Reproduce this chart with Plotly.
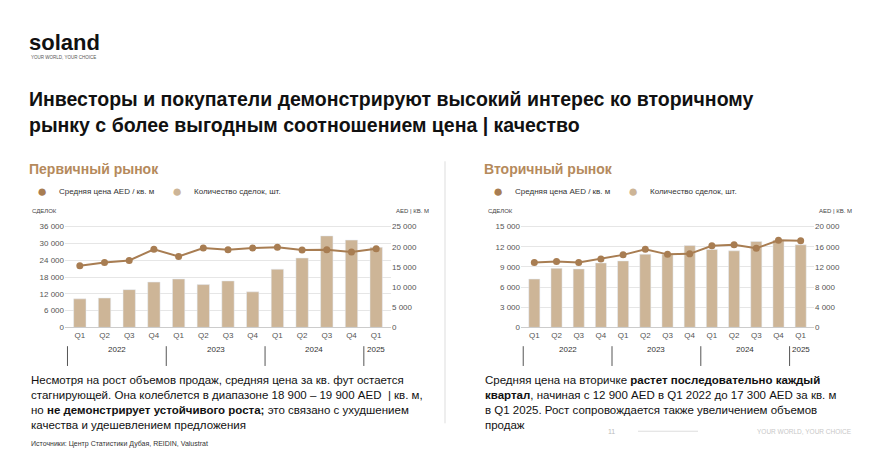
import plotly.graph_objects as go

quarters = ["Q1","Q2","Q3","Q4","Q1","Q2","Q3","Q4","Q1","Q2","Q3","Q4","Q1"]
years = ["2022","2023","2024","2025"]
year_centers = [1.5, 5.5, 9.5, 12]
year_seps = [-0.5, 3.5, 7.5, 11.5]
prim_deals = [10200,10500,13500,16200,17300,15300,16600,12700,20800,24800,32700,31200,28600]
prim_price = [15300,16100,16600,19400,17600,19700,19300,19700,19900,19200,19300,18700,19500]
sec_deals = [7200,8800,8700,9600,9900,10900,10900,12200,11600,11400,12800,13000,12300]
sec_price = [12900,13100,12900,13600,14400,15500,14500,14600,16200,16400,15700,17300,17200]

BAR = "#cdb597"; LINE = "#a87d52"; GOLD = "#b58a5c"
FONT = "Liberation Sans"
W, H = 870, 450
idx = list(range(len(quarters)))
DX = -9

fig = go.Figure()
panels = [
    (prim_deals, prim_price, 57, 383, "x", [0,36000], 6000, [0,25000], 5000),
    (sec_deals, sec_price, 513, 806, "x2", [0,15000], 3000, [0,20000], 4000),
]
for k,(deals, price, x0, x1, xa, r1, d1, r2, d2) in enumerate(panels):
    n1 = "" if k == 0 else "3"; n2 = "2" if k == 0 else "4"
    sfx = "" if k == 0 else "2"
    fig.add_trace(go.Bar(x=idx, y=deals, marker_color=BAR, width=0.5, xaxis=xa, yaxis="y"+n1, showlegend=False))
    fig.add_trace(go.Scatter(x=idx, y=price, mode="lines+markers", line=dict(color=LINE, width=2),
                             marker=dict(size=7, color=LINE), xaxis=xa, yaxis="y"+n2, showlegend=False))
    dom = [x0/W, x1/W]; ydom = [(H-323)/H, (H-215)/H]
    fig.layout["xaxis"+sfx] = dict(domain=dom, tickvals=idx, ticktext=quarters, range=[-0.6,12.6],
        tickfont=dict(size=8, color="#555"), showgrid=False, showline=True, linecolor="#ccc", anchor="y"+n1)
    fig.layout["yaxis"+n1] = dict(domain=ydom, range=[0, r1[1]*1.06], tickvals=list(range(0, r1[1]+1, d1)), tickformat=",", gridcolor="#e6e6e6",
        tickfont=dict(size=8, color="#555"), anchor="x"+sfx, zeroline=False)
    fig.layout["yaxis"+n2] = dict(domain=ydom, range=[0, r2[1]*1.06], tickvals=list(range(0, r2[1]+1, d2)), tickformat=",", overlaying="y"+n1, side="right",
        showgrid=False, tickfont=dict(size=8, color="#555"), anchor="x"+sfx, zeroline=False)
    xr = "x"+sfx
    for yl, c in zip(years, year_centers):
        fig.add_annotation(x=c, y=(H-352)/H, xref=xr, yref="paper", text=yl, showarrow=False,
                           font=dict(size=8, color="#333"))
    for s in year_seps:
        fig.add_shape(type="line", x0=s, x1=s, xref=xr, yref="paper", y0=(H-342)/H, y1=(H-362)/H,
                      line=dict(color="#555", width=1))
    lx = x0 - 30
    fig.add_annotation(x=(lx)/W, y=(H-186)/H, xref="paper", yref="paper", text="●", showarrow=False,
                       font=dict(size=17, color=LINE), xanchor="left")
    fig.add_annotation(x=(lx+22)/W, y=(H-186)/H, xref="paper", yref="paper", text="Средняя цена AED / кв. м",
                       showarrow=False, font=dict(size=8, color="#333"), xanchor="left")
    fig.add_annotation(x=(lx+135)/W, y=(H-186)/H, xref="paper", yref="paper", text="●", showarrow=False,
                       font=dict(size=17, color=BAR), xanchor="left")
    fig.add_annotation(x=(lx+157)/W, y=(H-186)/H, xref="paper", yref="paper", text="Количество сделок, шт.",
                       showarrow=False, font=dict(size=8, color="#333"), xanchor="left")
    fig.add_annotation(x=(x0-35)/W, y=(H-205)/H, xref="paper", yref="paper", text="СДЕЛОК",
                       showarrow=False, font=dict(size=6, color="#444"), xanchor="left")
    fig.add_annotation(x=(x1+40)/W, y=(H-205)/H, xref="paper", yref="paper", text="AED | КВ. М",
                       showarrow=False, font=dict(size=6, color="#444"), xanchor="right")

def txt(x, y, t, size, color="#111", anchor="left", bold=False):
    fig.add_annotation(x=(x+DX)/W, y=(H-y)/H, xref="paper", yref="paper", text=("<b>%s</b>" % t) if bold else t,
                       showarrow=False, xanchor=anchor, yanchor="middle", align="left",
                       font=dict(size=size, color=color, family=FONT))

txt(28, 35, "soland", 22, "#111", bold=True)
txt(30, 50, "YOUR WORLD, YOUR CHOICE", 4.5, "#555")
txt(28, 92, "Инвесторы и покупатели демонстрируют высокий интерес ко вторичному", 19.5, "#111", bold=True)
txt(28, 118, "рынку с более выгодным соотношением цена | качество", 19.5, "#111", bold=True)
txt(28, 163, "Первичный рынок", 14, GOLD, bold=True)
txt(483, 163, "Вторичный рынок", 14, GOLD, bold=True)
fig.add_annotation(x=(30+DX)/W, y=(H-368)/H, xref="paper", yref="paper", xanchor="left", yanchor="top", align="left",
    showarrow=False, font=dict(size=11.5, color="#111", family=FONT),
    text="Несмотря на рост объемов продаж, средняя цена за кв. фут остается<br>стагнирующей. Она колеблется в диапазоне 18 900 – 19 900 AED  | кв. м,<br>но <b>не демонстрирует устойчивого роста;</b> это связано с ухудшением<br>качества и удешевлением предложения")
fig.add_annotation(x=(484+DX)/W, y=(H-368)/H, xref="paper", yref="paper", xanchor="left", yanchor="top", align="left",
    showarrow=False, font=dict(size=11.5, color="#111", family=FONT),
    text="Средняя цена на вторичке <b>растет последовательно каждый</b><br><b>квартал</b>, начиная с 12 900 AED в Q1 2022 до 17 300 AED за кв. м<br>в Q1 2025. Рост сопровождается также увеличением объемов<br>продаж")
txt(30, 441, "Источники: Центр Статистики Дубая, REIDIN, Valustrat", 7, "#333")
txt(612, 428, "11", 7, "#bbb", anchor="center")
txt(855, 428, "YOUR WORLD, YOUR CHOICE", 6.5, "#c8c8c8", anchor="right")
fig.add_shape(type="line", xref="paper", yref="paper", x0=437/W, x1=437/W, y0=(H-420)/H, y1=(H-155)/H,
              line=dict(color="#ddd", width=1))
fig.add_shape(type="line", xref="paper", yref="paper", x0=630/W, x1=690/W, y0=(H-428)/H, y1=(H-428)/H,
              line=dict(color="#ddd", width=1))

fig.update_layout(width=W, height=H, margin=dict(l=0, r=0, t=0, b=0), plot_bgcolor="white",
                  paper_bgcolor="white", font=dict(family=FONT), bargap=0.4, separators=". ")
fig.write_html("out.html")
